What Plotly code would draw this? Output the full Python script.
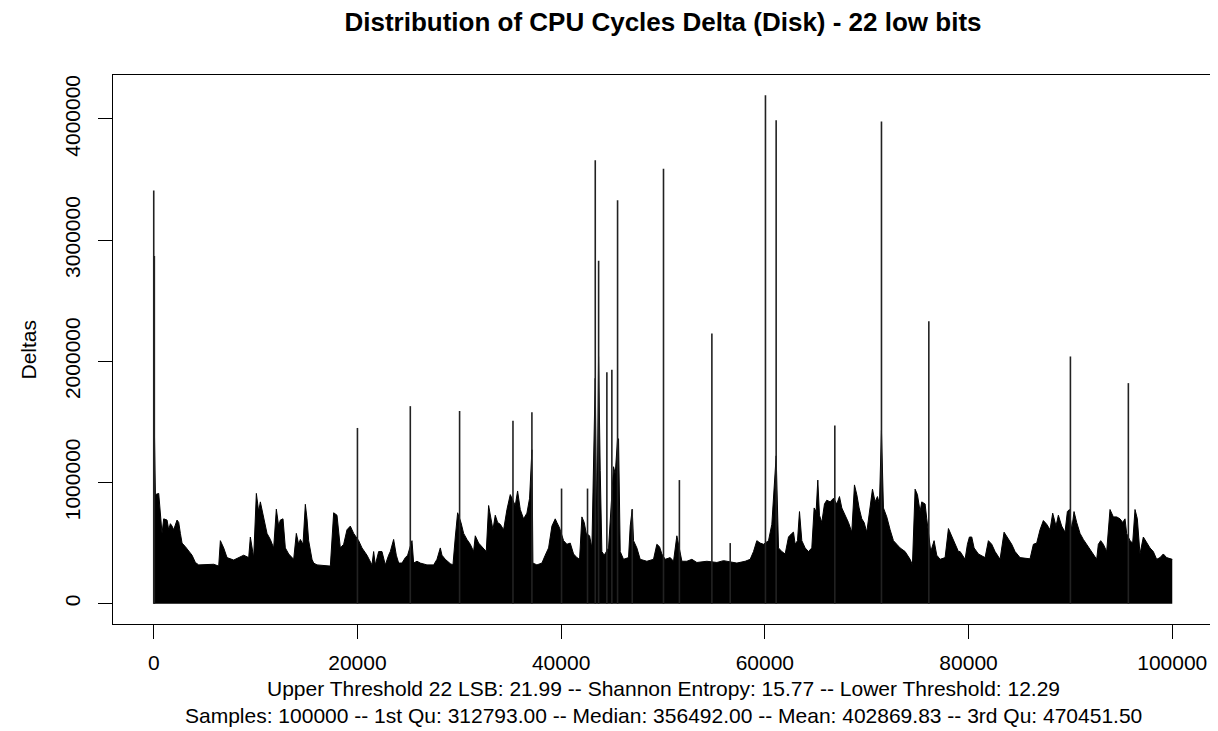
import plotly.graph_objects as go

# ---------------- data ----------------
title_text = "Distribution of CPU Cycles Delta (Disk) - 22 low bits"
y_label = "Deltas"
sub_line1 = "Upper Threshold 22 LSB: 21.99 -- Shannon Entropy: 15.77 -- Lower Threshold: 12.29"
sub_line2 = ("Samples: 100000 -- 1st Qu: 312793.00 -- Median: 356492.00 -- "
             "Mean: 402869.83 -- 3rd Qu: 470451.50")

n_samples = 100000
x_ticks = [0, 20000, 40000, 60000, 80000, 100000]
y_ticks = [0, 1000000, 2000000, 3000000, 4000000]

# upper envelope of the dense body of deltas (sample index, delta)
env_idx = [0, 162, 489, 816, 980, 1307, 1470, 1634, 1798, 1962, 2289, 2453, 2616, 2780,
           3107, 3434, 3761, 4089, 4416, 5888, 6378, 6542, 6869, 7196, 7851, 8832, 9323,
           9486, 9813, 10075, 10304, 10468, 10795, 11122, 11449, 11776, 12038, 12267,
           12431, 12693, 12922, 13249, 13740, 14001, 14230, 14394, 14656, 14885, 15048,
           15212, 15539, 15703, 16030, 17339, 17666, 17993, 18320, 18647, 18974, 19302,
           19629, 20120, 20447, 20938, 21428, 21592, 21756, 22083, 22410, 22737, 23064,
           23228, 23555, 23817, 24047, 24374, 24701, 24930, 25355, 25519, 25846, 26173,
           26827, 27482, 27809, 28136, 28299, 28626, 29117, 29379, 29608, 29837, 30164,
           30426, 30753, 31080, 31407, 31570, 31897, 32225, 32650, 32879, 33042, 33304,
           33533, 33762, 34024, 34351, 34678, 35005, 35496, 35725, 35986, 36313, 36640,
           36902, 37131, 37229, 37622, 38112, 38439, 38767, 39094, 39421, 39584, 39846,
           40239, 40566, 40893, 41220, 41547, 41809, 42038, 42267, 42463, 42790, 43019,
           43182, 43346, 43510, 43673, 43837, 44000, 44229, 44655, 45145, 45309, 45538,
           45636, 45799, 46126, 46617, 46781, 46977, 47108, 47435, 47762, 48416, 49070,
           49397, 49659, 49888, 50215, 50706, 51036, 51360, 51854, 52345, 52835, 53326,
           54307, 55289, 55943, 57251, 58069, 58560, 58887, 59214, 59541, 59868, 60359,
           60686, 60849, 61111, 61340, 61667, 61994, 62321, 62648, 62812, 62976, 63205,
           63401, 63630, 63957, 64284, 64611, 64840, 65036, 65200, 65363, 65592, 65854,
           66083, 66410, 66737, 67064, 67326, 67555, 67882, 68209, 68536, 68798, 69027,
           69256, 69518, 69747, 70008, 70270, 70566, 70826, 71055, 71251, 71448, 71644,
           71971, 72298, 72625, 72952, 73279, 73770, 74261, 74490, 74752, 74981, 75242,
           75406, 75733, 75896, 76289, 76616, 76877, 77204, 77697, 78024, 78349, 78676,
           79004, 79169, 79660, 79889, 80085, 80314, 80543, 80968, 81622, 81949, 82276,
           82603, 83094, 83487, 83814, 84239, 84566, 85057, 86038, 86365, 86692, 87019,
           87346, 87674, 88001, 88262, 88589, 88818, 89145, 89472, 89701, 89898, 90127,
           90356, 90617, 90944, 91272, 91762, 92253, 92580, 92744, 92973, 93234, 93561,
           93888, 94216, 94543, 94870, 95132, 95361, 95524, 95851, 96113, 96342, 96571,
           96832, 97160, 97487, 97814, 98141, 98468, 98795, 99122, 99449, 100000]
env_val = [1800000, 900000, 910000, 580000, 700000, 690000, 610000, 660000, 640000, 610000,
           690000, 670000, 580000, 500000, 470000, 430000, 400000, 340000, 320000, 325000,
           310000, 520000, 460000, 380000, 360000, 400000, 380000, 550000, 380000, 910000,
           760000, 840000, 700000, 580000, 530000, 460000, 780000, 640000, 690000, 700000,
           460000, 410000, 366000, 580000, 490000, 530000, 490000, 820000, 700000, 520000,
           366000, 335000, 320000, 310000, 750000, 730000, 460000, 490000, 610000, 640000,
           580000, 520000, 460000, 400000, 320000, 430000, 320000, 430000, 430000, 320000,
           400000, 430000, 530000, 400000, 335000, 335000, 380000, 400000, 520000, 335000,
           350000, 335000, 320000, 320000, 366000, 460000, 400000, 366000, 330000, 320000,
           550000, 750000, 670000, 580000, 530000, 490000, 430000, 560000, 500000, 470000,
           430000, 810000, 730000, 610000, 730000, 670000, 655000, 610000, 777000, 900000,
           810000, 930000, 777000, 700000, 747000, 870000, 1270000, 335000, 320000, 335000,
           400000, 460000, 640000, 700000, 670000, 625000, 520000, 490000, 500000, 410000,
           380000, 366000, 716000, 670000, 580000, 560000, 460000, 1070000, 1860000, 520000,
           2040000, 1100000, 430000, 400000, 460000, 1130000, 1070000, 1360000, 1360000,
           430000, 366000, 380000, 640000, 777000, 520000, 460000, 366000, 350000, 366000,
           490000, 470000, 410000, 366000, 380000, 350000, 560000, 350000, 350000, 366000,
           340000, 350000, 340000, 355000, 335000, 350000, 366000, 430000, 520000, 500000,
           490000, 520000, 655000, 884000, 1220000, 460000, 430000, 410000, 550000, 580000,
           590000, 490000, 520000, 760000, 520000, 460000, 430000, 460000, 790000, 760000,
           1020000, 730000, 670000, 823000, 854000, 840000, 870000, 823000, 884000, 790000,
           730000, 670000, 590000, 980000, 900000, 790000, 700000, 670000, 590000, 747000,
           945000, 840000, 884000, 823000, 1430000, 790000, 716000, 610000, 520000, 490000,
           460000, 430000, 366000, 320000, 945000, 900000, 760000, 840000, 823000, 700000,
           430000, 520000, 400000, 366000, 380000, 620000, 560000, 490000, 430000, 430000,
           366000, 490000, 550000, 550000, 460000, 410000, 380000, 520000, 490000, 430000,
           366000, 590000, 550000, 490000, 430000, 380000, 370000, 490000, 500000, 610000,
           686000, 655000, 610000, 747000, 640000, 730000, 640000, 590000, 760000, 777000,
           610000, 760000, 670000, 580000, 530000, 470000, 410000, 366000, 490000, 520000,
           490000, 430000, 777000, 716000, 716000, 700000, 670000, 700000, 580000, 520000,
           500000, 777000, 700000, 410000, 550000, 500000, 460000, 430000, 366000, 380000,
           410000, 380000, 366000]

# isolated tall deltas (sample index, delta)
spike_idx = [1, 60, 20000, 25190, 30030, 35270, 37130, 40040, 42590, 43350, 43680,
             44490, 44980, 45540, 46980, 50050, 51610, 54800, 56600, 60060, 61110,
             66870, 71450, 76100, 90000, 95690]
spike_val = [3410000, 2870000, 1450000, 1630000, 1590000, 1510000, 1580000, 950000,
             950000, 3660000, 2830000, 1910000, 1930000, 3330000, 780000, 3590000,
             1020000, 2230000, 500000, 4195000, 3990000, 1470000, 3980000, 2330000,
             2040000, 1820000]

# ---------------- figure ----------------
FONT = "Liberation Sans, Arial, Helvetica, sans-serif"
# the page body adds an 8 px offset; the figure is sized so it fits the window
FIG_W, FIG_H = 1210, 723
M_L, M_T, PLOT_W, PLOT_H = 105, 67, 1100, 548.6
M_R = FIG_W - M_L - PLOT_W
M_B = FIG_H - M_T - PLOT_H

y_max = max(max(env_val), max(spike_val))
x_lo, x_hi = 1, n_samples
x_pad = (x_hi - x_lo) * 0.04
y_pad = y_max * 0.04

sx, sy = [], []
for i, v in zip(spike_idx, spike_val):
    sx += [i, i, None]
    sy += [0, v, None]

fig = go.Figure()
fig.add_trace(go.Scatter(
    x=env_idx, y=env_val, mode="lines", fill="tozeroy",
    fillcolor="black", line=dict(color="black", width=1),
    hoverinfo="skip", showlegend=False))
fig.add_trace(go.Scatter(
    x=sx, y=sy, mode="lines", line=dict(color="#222222", width=1.6),
    hoverinfo="skip", showlegend=False))

fig.update_layout(
    width=FIG_W, height=FIG_H,
    paper_bgcolor="white", plot_bgcolor="white",
    margin=dict(l=M_L, r=M_R, t=M_T, b=M_B, autoexpand=False),
    font=dict(family=FONT, size=21, color="black"),
    title=dict(text="<b>" + title_text + "</b>",
               x=(M_L + PLOT_W / 2) / FIG_W, xanchor="center",
               y=1 - 14 / FIG_H, yanchor="middle", yref="container",
               font=dict(family=FONT, size=26, color="black")),
    showlegend=False,
)
fig.update_xaxes(
    range=[x_lo - x_pad, x_hi + x_pad], tickvals=x_ticks,
    ticktext=[str(t) for t in x_ticks],
    showgrid=False, zeroline=False,
    showline=True, mirror=True, linecolor="black", linewidth=1,
    ticks="outside", ticklen=14, tickcolor="black", tickwidth=1,
    ticklabelstandoff=6,
    tickfont=dict(family=FONT, size=21, color="black"),
)
fig.update_yaxes(
    range=[-y_pad, y_max + y_pad], tickvals=y_ticks,
    ticktext=[str(t) for t in y_ticks],
    showgrid=False, zeroline=False,
    showline=True, mirror=True, linecolor="black", linewidth=1,
    ticks="outside", ticklen=14, tickcolor="black", tickwidth=1,
    tickangle=-90, ticklabelstandoff=10,
    tickfont=dict(family=FONT, size=21, color="black"),
)

fig.add_annotation(text=y_label, xref="paper", yref="paper",
                   x=(20 - M_L) / PLOT_W, y=0.5, xanchor="center", yanchor="middle",
                   textangle=-90, showarrow=False,
                   font=dict(family=FONT, size=21, color="black"))
bottom_px = M_T + PLOT_H
fig.add_annotation(text=sub_line1, xref="paper", yref="paper",
                   x=0.5, y=-(680 - bottom_px) / PLOT_H, xanchor="center", yanchor="middle",
                   showarrow=False, font=dict(family=FONT, size=21, color="black"))
fig.add_annotation(text=sub_line2, xref="paper", yref="paper",
                   x=0.5, y=-(707 - bottom_px) / PLOT_H, xanchor="center", yanchor="middle",
                   showarrow=False, font=dict(family=FONT, size=21, color="black"))

fig.write_html("out.html")
